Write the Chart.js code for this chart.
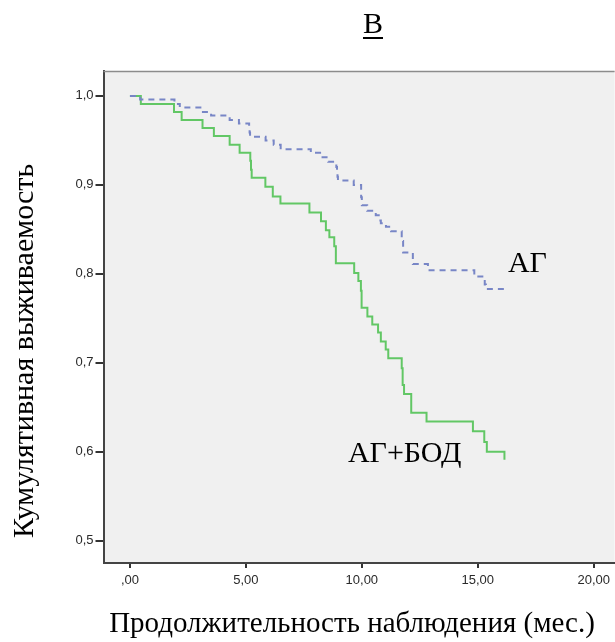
<!DOCTYPE html>
<html>
<head>
<meta charset="utf-8">
<script src="https://cdn.jsdelivr.net/npm/chart.js@4"></script>
<style>
  html, body { margin: 0; padding: 0; background: #fff; }
  canvas { display: block; }
</style>
</head>
<body>
<canvas id="kmChart" width="615" height="642"></canvas>
<script>
// Kaplan-Meier curves: time (months) and survival after each drop
const agT = [0, 0.44, 1.92, 2.15, 3.10, 3.50, 4.30, 4.70, 5.14, 5.16, 5.18, 5.85, 6.20, 6.50,
  7.80, 8.20, 8.55, 8.90, 8.93, 8.95, 8.97, 9.65, 9.97, 10.00, 10.23, 10.60, 10.80, 10.82,
  11.04, 11.26, 11.72, 11.78, 12.20, 12.85, 14.85, 15.30, 15.35, 16.20];
const agS = [1.000, 0.996, 0.991, 0.987, 0.982, 0.978, 0.973, 0.969, 0.964, 0.959, 0.954, 0.950, 0.945, 0.940,
  0.936, 0.931, 0.926, 0.920, 0.914, 0.909, 0.905, 0.900, 0.886, 0.877, 0.871, 0.866, 0.860, 0.857,
  0.853, 0.848, 0.837, 0.824, 0.811, 0.804, 0.797, 0.788, 0.783, 0.783];

const agBodT = [0, 0.47, 1.90, 2.23, 3.13, 3.62, 4.30, 4.73, 5.19, 5.22, 5.25, 5.84, 6.16, 6.49,
  7.74, 8.24, 8.45, 8.60, 8.81, 8.88, 9.67, 9.85, 9.96, 9.99, 10.24, 10.45, 10.70, 10.82,
  11.03, 11.14, 11.72, 11.76, 11.82, 12.13, 12.79, 14.79, 15.28, 15.39, 16.15];
const agBodS = [1.000, 0.991, 0.982, 0.973, 0.964, 0.955, 0.945, 0.936, 0.927, 0.917, 0.908, 0.898, 0.887, 0.879,
  0.869, 0.859, 0.849, 0.841, 0.831, 0.812, 0.801, 0.792, 0.781, 0.762, 0.752, 0.743, 0.734, 0.724,
  0.715, 0.705, 0.694, 0.675, 0.665, 0.644, 0.634, 0.623, 0.611, 0.600, 0.591];

const xTicks = [0, 5, 10, 15, 20];
const xTickLabels = [',00', '5,00', '10,00', '15,00', '20,00'];
const yTicks = [0.5, 0.6, 0.7, 0.8, 0.9, 1.0];
const yTickLabels = ['0,5', '0,6', '0,7', '0,8', '0,9', '1,0'];

const chartTitle = 'В';
const xTitle = 'Продолжительность наблюдения (мес.)';
const yTitle = 'Кумулятивная выживаемость';
// curve labels anchored at [time, survival]
const curveLabels = [
  { text: 'АГ', at: [16.3, 0.802] },
  { text: 'АГ+БОД', at: [9.4, 0.589] },
];

const toPoints = (ts, ss) => ts.map((t, i) => ({ x: t, y: ss[i] }));
const SERIF = '"Liberation Serif", "Times New Roman", serif';
const SANS = '"Liberation Sans", Arial, sans-serif';

const decor = {
  id: 'decor',
  beforeDraw(chart) {
    const { ctx, chartArea: a } = chart;
    ctx.save();
    ctx.fillStyle = '#f0f0f0';
    ctx.fillRect(a.left, a.top, a.right - a.left, a.bottom - a.top);
    ctx.restore();
  },
  afterDraw(chart) {
    const { ctx, chartArea: a, scales } = chart;
    ctx.save();
    // top frame line
    ctx.strokeStyle = '#8c8c8c';
    ctx.lineWidth = 1.5;
    ctx.beginPath();
    ctx.moveTo(a.left, a.top + 0.5);
    ctx.lineTo(a.right, a.top + 0.5);
    ctx.stroke();

    ctx.fillStyle = '#000';
    // panel letter, underlined
    ctx.font = '30px ' + SERIF;
    ctx.textAlign = 'center';
    ctx.textBaseline = 'alphabetic';
    ctx.fillText(chartTitle, 373, 33);
    const w = ctx.measureText(chartTitle).width;
    ctx.fillRect(373 - w / 2, 37, w, 2);

    // axis titles
    ctx.font = '29px ' + SERIF;
    ctx.fillText(xTitle, 352, 632);
    ctx.font = '30px ' + SERIF;
    ctx.save();
    ctx.translate(33, 351);
    ctx.rotate(-Math.PI / 2);
    ctx.fillText(yTitle, 0, 0);
    ctx.restore();

    // curve labels
    ctx.font = '30px ' + SERIF;
    ctx.textAlign = 'left';
    curveLabels.forEach((l) => {
      ctx.fillText(l.text, scales.x.getPixelForValue(l.at[0]), scales.y.getPixelForValue(l.at[1]));
    });
    ctx.restore();
  },
};

new Chart(document.getElementById('kmChart'), {
  type: 'line',
  data: {
    datasets: [
      {
        label: 'АГ',
        data: toPoints(agT, agS),
        borderColor: '#7886c6',
        borderWidth: 2,
        borderDash: [6, 5],
        stepped: 'before',
        pointRadius: 0,
        fill: false,
      },
      {
        label: 'АГ+БОД',
        data: toPoints(agBodT, agBodS),
        borderColor: '#62c765',
        borderWidth: 2,
        stepped: 'before',
        pointRadius: 0,
        fill: false,
      },
    ],
  },
  options: {
    responsive: false,
    animation: false,
    layout: { padding: { top: 71, right: 0, left: 0, bottom: 0 } },
    plugins: { legend: { display: false }, title: { display: false }, tooltip: { enabled: false } },
    scales: {
      x: {
        type: 'linear',
        min: -1.14,
        max: 20.9,
        afterBuildTicks: (s) => { s.ticks = xTicks.map((v) => ({ value: v })); },
        afterFit: (s) => { s.height = 79; },
        ticks: {
          callback: (v, i) => xTickLabels[i],
          font: { family: SANS, size: 13 },
          color: '#2a2a2a',
          padding: 5,
          maxRotation: 0,
        },
        grid: { drawOnChartArea: false, drawTicks: true, tickLength: 5, color: '#333', lineWidth: 2 },
        border: { display: true, color: '#444', width: 2 },
      },
      y: {
        type: 'linear',
        min: 0.475,
        max: 1.028,
        afterBuildTicks: (s) => { s.ticks = yTicks.map((v) => ({ value: v })); },
        afterFit: (s) => { s.width = 103.5; },
        ticks: {
          callback: (v, i) => yTickLabels[i],
          font: { family: SANS, size: 13 },
          color: '#2a2a2a',
          padding: 2,
        },
        grid: { drawOnChartArea: false, drawTicks: true, tickLength: 8, color: '#333', lineWidth: 2 },
        border: { display: true, color: '#444', width: 2 },
      },
    },
  },
  plugins: [decor],
});
</script>
</body>
</html>
